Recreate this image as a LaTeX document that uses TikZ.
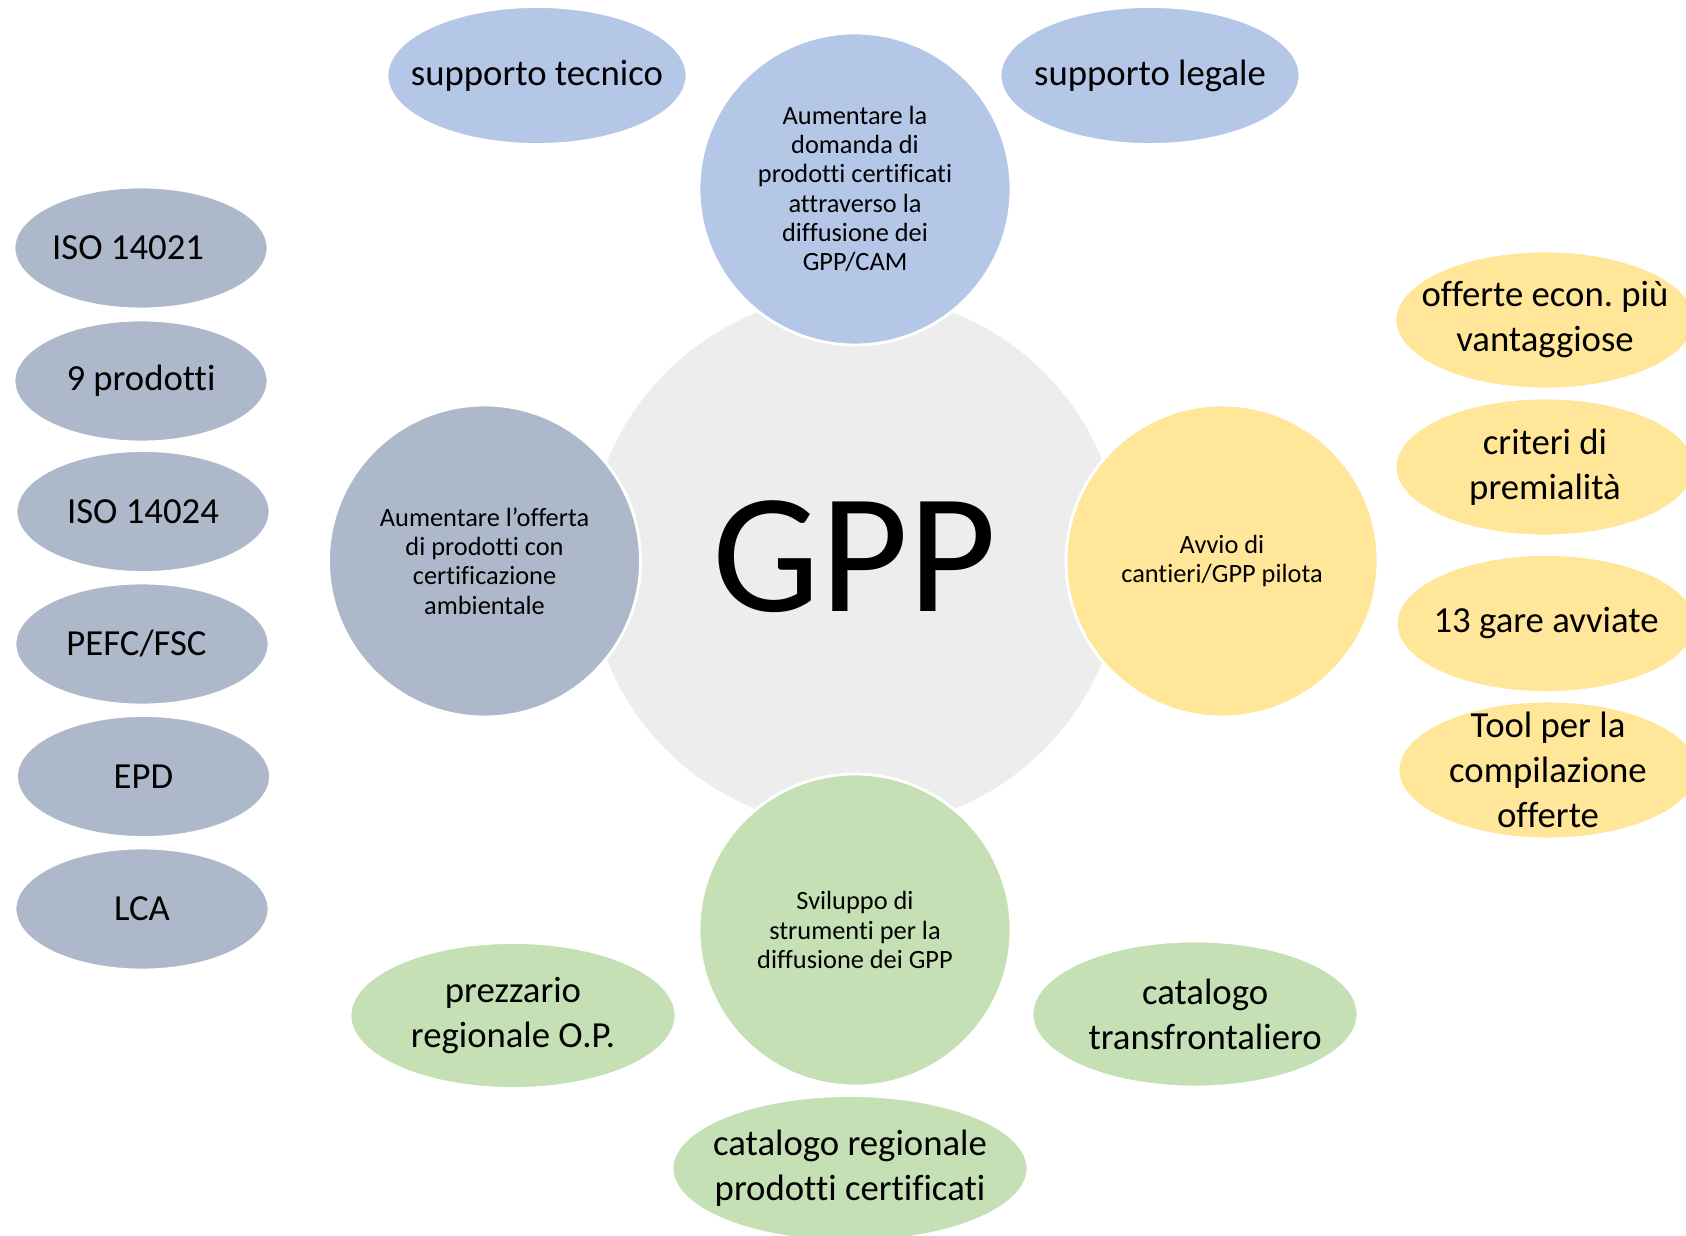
\documentclass[tikz,border=0pt]{standalone}
\usepackage{fontspec}
\setmainfont{Carlito}[Ligatures=NoCommon]
\usepackage{xcolor}
\usetikzlibrary{
    shapes.geometric
}
\definecolor{hubgray}{HTML}{EDEDED}
\definecolor{domblue}{HTML}{B4C7E7}
\definecolor{offslate}{HTML}{ADB9CA}
\definecolor{pilotyellow}{HTML}{FFE699}
\definecolor{toolgreen}{HTML}{C5E0B4}
\frenchspacing

\begin{document}
\begin{tikzpicture}[
        hub/.style={circle, fill=hubgray, minimum size=5.34cm, inner sep=0pt,
            font=\fontsize{48.6}{58}\selectfont},
        aim/.style={circle, draw=white, line width=0.8pt, minimum size=3.12cm,
            inner sep=0pt, align=center, font=\fontsize{7.5}{8.35}\selectfont},
        leaf/.style={ellipse, draw=white, line width=0.8pt, minimum width=3cm,
            minimum height=1.38cm, inner sep=-0.3cm, align=center,
            font=\fontsize{10.45}{12.8}\selectfont},
        tag/.style={leaf, minimum width=2.54cm, minimum height=1.22cm}
    ]
    \clip (0, 0) rectangle (16.86, -12.36);

    \node[hub, text depth=0.09cm] (gpp) at (8.55, -5.61) {GPP};

    \node[aim, fill=domblue] (domanda) at (8.55, -1.89)
        {Aumentare la\\domanda di\\prodotti certificati\\attraverso la\\diffusione dei\\GPP/CAM};
    \node[aim, fill=offslate] (offerta) at (4.845, -5.61)
        {Aumentare l’offerta\\di prodotti con\\certificazione\\ambientale};
    \node[aim, fill=pilotyellow] (cantieri) at (12.22, -5.61)
        {Avvio di\\cantieri/GPP pilota};
    \node[aim, fill=toolgreen] (strumenti) at (8.55, -9.30)
        {Sviluppo di\\strumenti per la\\diffusione dei GPP};

    \node[leaf, fill=domblue] (tecnico) at (5.37, -0.755) {supporto tecnico};
    \node[leaf, fill=domblue] (legale) at (11.50, -0.755) {supporto legale};

    \node[tag, fill=offslate] (iso1) at (1.41, -2.48) {ISO 14021\hspace*{0.7em}};
    \node[tag, fill=offslate] (prodotti) at (1.41, -3.81) {9 prodotti};
    \node[tag, fill=offslate] (iso2) at (1.43, -5.115) {ISO 14024};
    \node[tag, fill=offslate] (pefc) at (1.42, -6.44) {PEFC/FSC\hspace*{0.3em}};
    \node[tag, fill=offslate] (epd) at (1.435, -7.765) {EPD};
    \node[tag, fill=offslate] (lca) at (1.42, -9.09) {LCA};

    \node[leaf, fill=pilotyellow] (econ) at (15.45, -3.20) {offerte econ. più\\vantaggiose};
    \node[leaf, fill=pilotyellow] (premi) at (15.45, -4.67) {criteri di\\premialità};
    \node[leaf, fill=pilotyellow] (gare) at (15.46, -6.235) {13 gare avviate};
    \node[leaf, fill=pilotyellow] (compila) at (15.48, -7.70) {Tool per la\\compilazione\\offerte};

    \node[leaf, fill=toolgreen, minimum width=3.26cm, minimum height=1.46cm] (prezzario)
        at (5.13, -10.155) {prezzario\\regionale O.P.};
    \node[leaf, fill=toolgreen, minimum width=3.26cm, minimum height=1.46cm] (transfr)
        at (11.95, -10.14) {\hspace*{0.55em}catalogo\\\hspace*{0.55em}transfrontaliero};
    \node[leaf, fill=toolgreen, minimum width=3.56cm, minimum height=1.46cm] (catalogo)
        at (8.50, -11.685) {catalogo regionale\\prodotti certificati};
\end{tikzpicture}
\end{document}
